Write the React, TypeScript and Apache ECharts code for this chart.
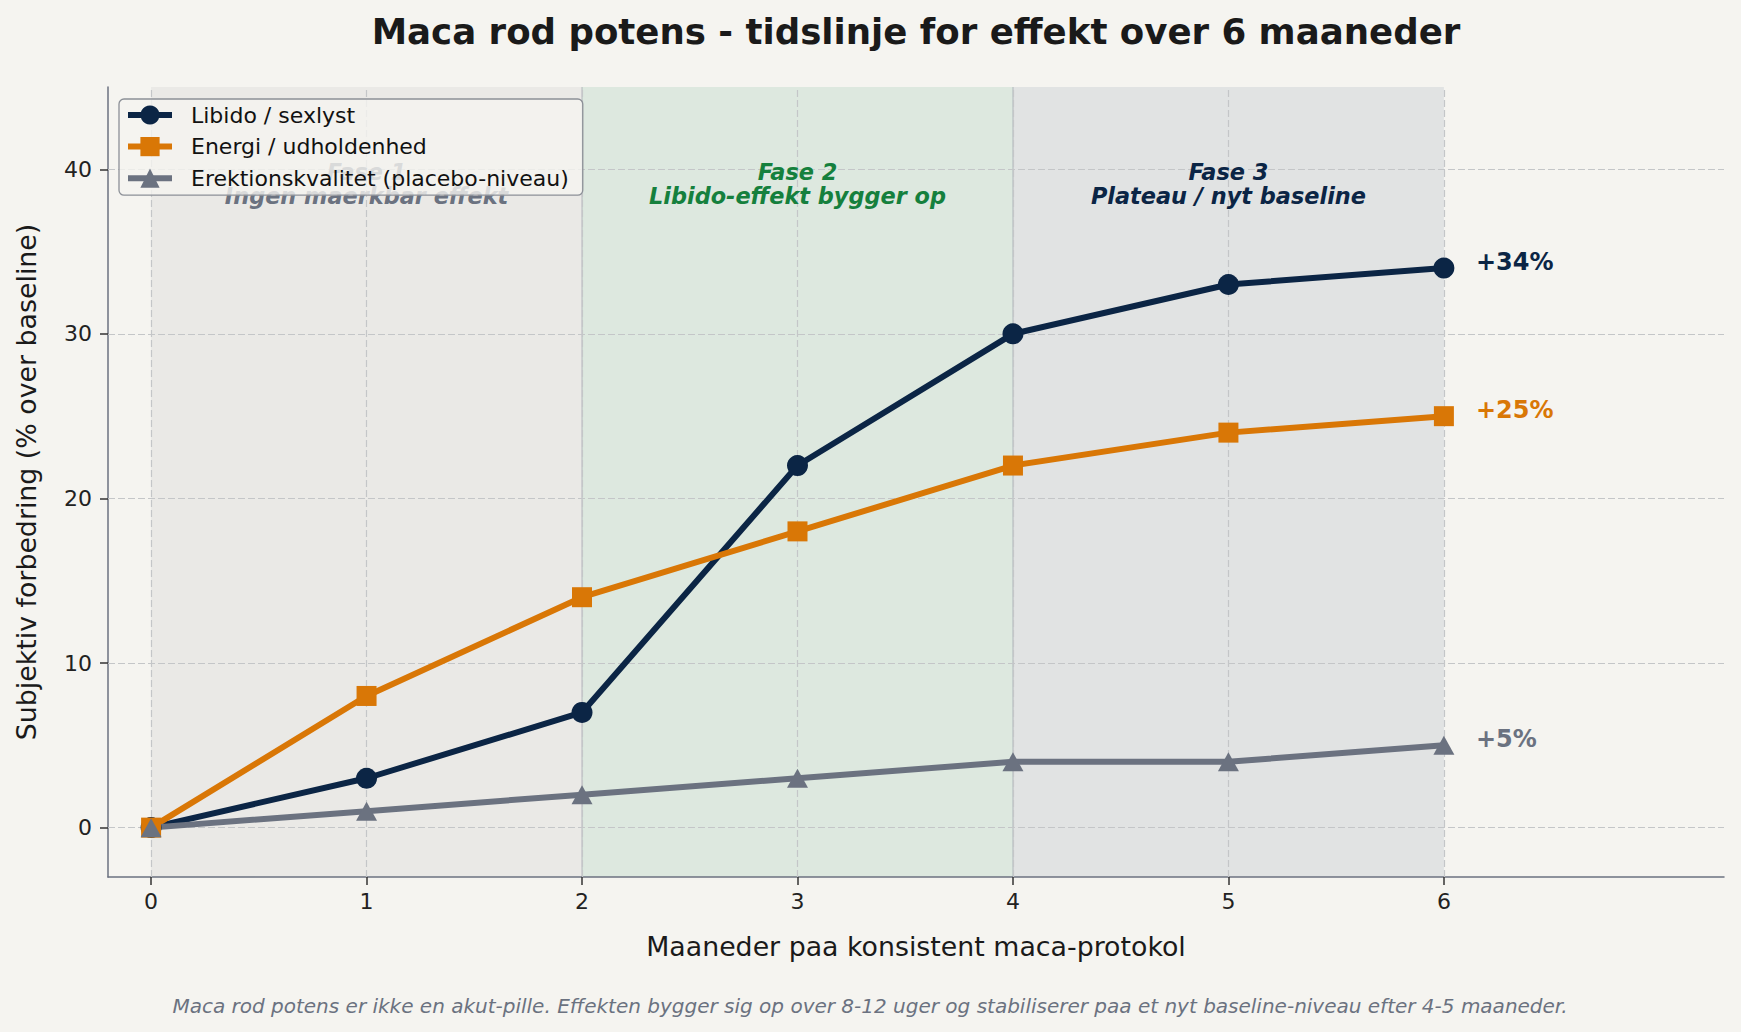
import React, { useEffect, useRef } from "react";
import * as echarts from "echarts";

// Months on the protocol and subjective improvement (% over baseline)
const months = [0, 1, 2, 3, 4, 5, 6];
const libido = [0, 3, 7, 22, 30, 33, 34];
const energi = [0, 8, 14, 18, 22, 24, 25];
const erektion = [0, 1, 2, 3, 4, 4, 5];

const seriesNames = [
  "Libido / sexlyst",
  "Energi / udholdenhed",
  "Erektionskvalitet (placebo-niveau)",
];
const seriesColors = ["#0b2545", "#d97706", "#6b7280"];

// Phases of the timeline
const phaseStarts = [0, 2, 4];
const phaseEnds = [2, 4, 6];
const phaseBoundaries = [2, 4];
const phaseCenters = [1, 3, 5];
const phaseTitles = ["Fase 1", "Fase 2", "Fase 3"];
const phaseTexts = ["Ingen maerkbar effekt", "Libido-effekt bygger op", "Plateau / nyt baseline"];
const phaseFills = ["#eae9e6", "#dde8df", "#e1e3e3"];
const phaseTextColors = ["#6b7280", "#15803d", "#0b2545"];
const phaseLabelLevel = 39.1;

const xTicks = [0, 1, 2, 3, 4, 5, 6];
const yTicks = [0, 10, 20, 30, 40];

const titleText = "Maca rod potens - tidslinje for effekt over 6 maaneder";
const xName = "Maaneder paa konsistent maca-protokol";
const yName = "Subjektiv forbedring (% over baseline)";
const footerText =
  "Maca rod potens er ikke en akut-pille. Effekten bygger sig op over 8-12 uger og stabiliserer paa et nyt baseline-niveau efter 4-5 maaneder.";

const FONT = "DejaVu Sans";
const LINE_WIDTH = 6;

function lineSeries(name: string, values: number[], color: string, symbol: string, symbolSize: any) {
  return {
    type: "line",
    name,
    data: months.map((m, i) => [m, values[i]]),
    symbol,
    symbolSize,
    showAllSymbol: true,
    lineStyle: { width: LINE_WIDTH, color },
    itemStyle: { color },
    z: 3,
    endLabel: {
      show: true,
      formatter: (p: any) => `+${p.value[1]}%`,
      distance: 32,
      offset: [0, -6],
      color,
      fontWeight: "bold",
      fontSize: 24,
      fontFamily: FONT,
    },
  };
}

export default function App() {
  const ref = useRef<HTMLDivElement>(null);

  useEffect(() => {
    document.body.style.margin = "0";
    const chart = echarts.init(ref.current!, null, { renderer: "svg" });

    const option: any = {
      animation: false,
      backgroundColor: "#f5f4f0",
      textStyle: { fontFamily: FONT },
      grid: { left: 108, right: 17, top: 87, bottom: 155, containLabel: false },
      graphic: [
        {
          type: "text",
          x: 916,
          y: 31,
          style: {
            text: titleText,
            align: "center",
            verticalAlign: "middle",
            fontFamily: FONT,
            fontWeight: "bold",
            fontSize: 35.6,
            fill: "#1a1a1a",
          },
        },
        {
          type: "text",
          x: 870,
          y: 1006,
          style: {
            text: footerText,
            align: "center",
            verticalAlign: "middle",
            fontFamily: FONT,
            fontStyle: "italic",
            fontSize: 20,
            fill: "#6b7280",
          },
        },
      ],
      legend: {
        data: seriesNames,
        orient: "vertical",
        left: 119,
        top: 99,
        itemWidth: 44,
        itemHeight: 24,
        itemGap: 9.6,
        padding: [5, 14, 6, 6],
        backgroundColor: "rgba(245,244,240,0.8)",
        borderColor: "#8c9097",
        borderWidth: 1.3,
        borderRadius: 5,
        lineStyle: { width: LINE_WIDTH },
        textStyle: { fontFamily: FONT, fontSize: 22, color: "#111", padding: [0, 0, 0, 14] },
      },
      xAxis: {
        type: "value",
        min: -0.2,
        max: 7.3,
        name: xName,
        nameLocation: "middle",
        nameGap: 56,
        nameTextStyle: { fontFamily: FONT, fontSize: 26.8, color: "#1a1a1a" },
        axisLine: { onZero: false, lineStyle: { color: "#6b7280", width: 1.5 } },
        axisTick: { customValues: xTicks, length: 8, lineStyle: { color: "#333", width: 1.5 } },
        axisLabel: { customValues: xTicks, margin: 13, fontSize: 22, color: "#222", fontFamily: FONT },
        splitLine: { show: false },
      },
      yAxis: {
        type: "value",
        min: -3,
        max: 45,
        name: yName,
        nameLocation: "middle",
        nameGap: 68,
        nameTextStyle: { fontFamily: FONT, fontSize: 26.8, color: "#1a1a1a" },
        axisLine: { show: true, onZero: false, lineStyle: { color: "#6b7280", width: 1.5 } },
        axisTick: { show: true, customValues: yTicks, length: 8, lineStyle: { color: "#333", width: 1.5 } },
        axisLabel: { customValues: yTicks, margin: 16, fontSize: 22, color: "#222", fontFamily: FONT },
        splitLine: { show: false },
      },
      series: [
        {
          type: "scatter",
          name: "phases",
          data: phaseCenters.map((c, i) => ({
            value: [c, phaseLabelLevel],
            label: { color: phaseTextColors[i] },
          })),
          symbolSize: 0,
          silent: true,
          z: 2,
          itemStyle: { opacity: 1 },
          label: {
            show: true,
            opacity: 1,
            position: "inside",
            formatter: (p: any) => `{t|${phaseTitles[p.dataIndex]}}\n{d|${phaseTexts[p.dataIndex]}}`,
            rich: {
              t: { fontFamily: FONT, fontSize: 22.4, fontWeight: "bold", fontStyle: "italic", lineHeight: 23.5, align: "center" },
              d: { fontFamily: FONT, fontSize: 22.4, fontWeight: "bold", fontStyle: "italic", lineHeight: 23.5, align: "center" },
            },
          },
          markArea: {
            silent: true,
            z: 0,
            data: phaseStarts.map((s, i) => [
              { xAxis: s, itemStyle: { color: phaseFills[i] } },
              { xAxis: phaseEnds[i] },
            ]),
          },
          markLine: {
            silent: true,
            z: 1,
            symbol: ["none", "none"],
            label: { show: false },
            lineStyle: { color: "#c4c6c8", type: [7, 3], width: 1.2 },
            data: [
              // faint solid phase boundaries under the dashed grid
              ...phaseBoundaries.map((v) => ({
                xAxis: v,
                lineStyle: { color: "rgba(107,114,128,0.22)", type: "solid", width: 1.8 },
              })),
              ...xTicks.map((v) => ({ xAxis: v })),
              ...yTicks.map((v) => ({ yAxis: v })),
            ],
          },
        },
        lineSeries(seriesNames[0], libido, seriesColors[0], "circle", 21),
        lineSeries(seriesNames[1], energi, seriesColors[1], "rect", 20),
        lineSeries(seriesNames[2], erektion, seriesColors[2], "triangle", [21, 19]),
      ],
    };

    chart.setOption(option);
    return () => chart.dispose();
  }, []);

  return <div ref={ref} style={{ width: 1741, height: 1032 }} />;
}
